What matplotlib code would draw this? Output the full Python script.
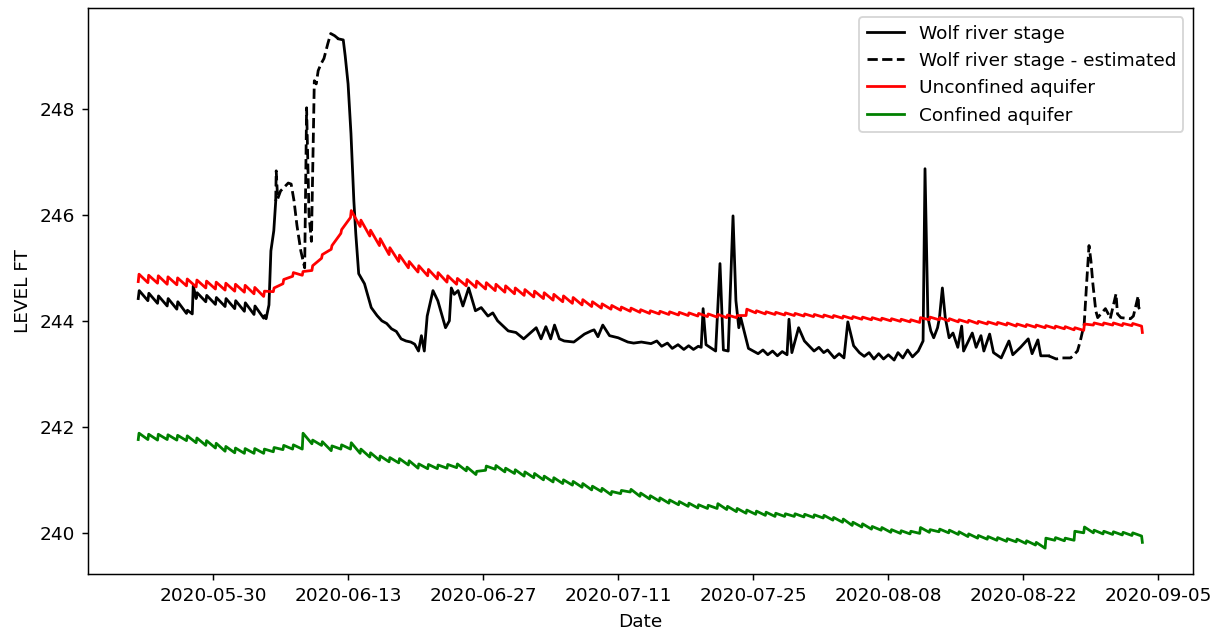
import numpy as np
import pandas as pd
import matplotlib
matplotlib.use("Agg")
import matplotlib.pyplot as plt
import matplotlib.dates as mdates

start = pd.Timestamp("2020-05-22")

# Wolf river stage (observed), (day since start, ft); None breaks the line
stage = [
    (0.25, 244.42), (0.35, 244.57), (1.25, 244.38), (1.35, 244.52), (2.25, 244.33), (2.35, 244.47),
    (3.25, 244.28), (3.35, 244.42), (4.25, 244.22), (4.35, 244.36), (5.25, 244.14), (5.35, 244.20),
    (5.85, 244.13), (5.95, 244.66), (6.25, 244.42), (6.35, 244.53), (7.25, 244.36), (7.35, 244.48),
    (8.25, 244.31), (8.35, 244.44), (9.25, 244.27), (9.35, 244.42), (10.25, 244.23), (10.35, 244.38),
    (11.25, 244.18), (11.35, 244.34), (12.25, 244.12), (12.35, 244.28), (13.25, 244.05), (13.35, 244.10),
    (13.5, 244.04), (13.8, 244.30), (14.0, 245.32), (14.3, 245.70), (14.5, 246.26),
    None,
    (21.0, 249.32), (21.5, 249.30), (21.7, 249.00), (22.0, 248.47), (22.3, 247.53), (22.6, 246.26),
    (22.8, 245.64), (23.1, 244.89), (23.7, 244.70), (24.4, 244.25), (25.0, 244.10), (25.5, 244.00),
    (26.0, 243.95), (26.5, 243.85), (27.0, 243.80), (27.5, 243.66), (28.0, 243.62), (28.5, 243.60),
    (28.9, 243.56), (29.3, 243.43), (29.6, 243.72), (29.9, 243.43), (30.2, 244.09), (30.8, 244.57),
    (31.3, 244.38), (32.1, 243.87), (32.5, 244.00), (32.7, 244.62), (33.0, 244.50), (33.4, 244.57),
    (33.9, 244.28), (34.5, 244.62), (35.2, 244.19), (35.8, 244.25), (36.5, 244.09), (37.0, 244.15),
    (37.5, 244.00), (38.6, 243.81), (39.4, 243.78), (40.2, 243.66), (41.5, 243.87), (42.0, 243.66),
    (42.5, 243.89), (43.0, 243.66), (43.4, 243.92), (43.9, 243.66), (44.4, 243.62), (45.4, 243.60),
    (46.5, 243.75), (47.2, 243.81), (47.5, 243.83), (47.9, 243.70), (48.4, 243.92), (49.1, 243.72),
    (50.0, 243.68), (51.0, 243.60), (51.6, 243.58), (52.4, 243.60), (53.4, 243.57), (54.0, 243.62),
    (54.5, 243.52), (55.1, 243.58), (55.6, 243.48), (56.2, 243.55), (56.8, 243.46), (57.3, 243.53),
    (57.8, 243.46), (58.3, 243.52), (58.6, 243.50), (58.8, 244.23), (59.1, 243.55), (60.1, 243.43),
    (60.55, 245.08), (60.9, 243.45), (61.4, 243.43), (61.9, 245.98), (62.2, 244.38), (62.5, 243.87),
    (62.7, 244.06), (63.5, 243.48), (64.5, 243.38), (65.0, 243.45), (65.5, 243.36), (66.0, 243.43),
    (66.5, 243.34), (67.0, 243.42), (67.5, 243.36), (67.7, 244.03), (68.0, 243.40), (68.7, 243.87),
    (69.3, 243.62), (70.3, 243.43), (70.8, 243.50), (71.3, 243.40), (71.7, 243.45), (72.4, 243.30),
    (72.9, 243.38), (73.4, 243.30), (73.8, 243.98), (74.4, 243.53), (75.0, 243.40), (75.5, 243.33),
    (76.0, 243.40), (76.5, 243.28), (77.0, 243.38), (77.5, 243.28), (78.0, 243.36), (78.6, 243.26),
    (79.0, 243.40), (79.5, 243.30), (80.0, 243.45), (80.5, 243.32), (81.1, 243.43), (81.6, 243.62),
    (81.8, 246.87), (82.1, 244.06), (82.4, 243.81), (82.7, 243.68), (83.1, 243.87), (83.3, 244.06),
    (83.6, 244.62), (83.9, 244.06), (84.3, 243.68), (84.7, 243.77), (85.2, 243.50), (85.6, 243.90),
    (85.8, 243.43), (86.7, 243.77), (87.1, 243.50), (87.6, 243.72), (87.9, 243.43), (88.5, 243.75),
    (88.9, 243.40), (89.7, 243.30), (90.5, 243.62), (90.9, 243.36), (91.7, 243.50), (92.5, 243.66),
    (92.9, 243.38), (93.5, 243.64), (93.8, 243.34), (94.6, 243.34),
]

# Wolf river stage - estimated
stage_est = [
    (14.5, 246.26), (14.55, 246.83), (14.7, 246.30), (15.0, 246.45), (15.8, 246.60), (16.1, 246.58),
    (16.4, 246.26), (16.7, 245.80), (17.1, 245.32), (17.5, 245.00), (17.7, 248.02), (17.95, 246.00),
    (18.2, 245.50), (18.4, 247.50), (18.5, 248.53), (18.7, 248.47), (18.9, 248.72), (19.2, 248.85),
    (19.5, 248.95), (19.9, 249.23), (20.2, 249.42), (20.6, 249.38), (21.0, 249.32),
    None,
    (94.6, 243.34), (95.4, 243.28), (96.0, 243.30), (96.9, 243.30), (97.6, 243.43), (97.9, 243.62),
    (98.3, 243.94), (98.55, 244.70), (98.8, 245.42), (99.0, 245.13), (99.2, 244.70), (99.5, 244.19),
    (99.7, 244.06), (100.5, 244.23), (100.8, 244.13), (101.0, 244.04), (101.6, 244.51), (101.75, 244.13),
    (102.1, 244.06), (103.1, 244.04), (103.4, 244.09), (103.9, 244.47), (103.95, 244.25), (104.2, 244.19),
]

# aquifers: daily low (before the daily jump) and high (just after it)
unconf_low = [
    244.74, 244.72, 244.71, 244.69, 244.68, 244.66, 244.64, 244.62, 244.60, 244.58,
    244.56, 244.54, 244.51, 244.46, 244.55, 244.70, 244.84, 244.86, 244.95, 245.18,
    245.35, 245.65, 245.95, 245.78, 245.60, 245.42, 245.25, 245.12, 245.00, 244.92,
    244.85, 244.79, 244.73, 244.69, 244.66, 244.63, 244.60, 244.57, 244.54, 244.51,
    244.48, 244.45, 244.42, 244.39, 244.36, 244.33, 244.30, 244.27, 244.24, 244.22,
    244.20, 244.18, 244.16, 244.14, 244.13, 244.12, 244.11, 244.10, 244.09, 244.08,
    244.07, 244.06, 244.06, 244.10, 244.15, 244.13, 244.12, 244.11, 244.10, 244.09,
    244.08, 244.07, 244.06, 244.05, 244.04, 244.03, 244.02, 244.01, 244.00, 243.99,
    243.98, 243.97, 244.02, 244.02, 244.00, 243.98, 243.97, 243.95, 243.94, 243.93,
    243.92, 243.90, 243.89, 243.88, 243.87, 243.86, 243.85, 243.83, 243.82, 243.92,
    243.92, 243.92, 243.91, 243.91, 243.90,
]
unconf_high = [
    244.88, 244.86, 244.85, 244.83, 244.81, 244.79, 244.77, 244.75, 244.73, 244.71,
    244.69, 244.67, 244.63, 244.56, 244.62, 244.78, 244.91, 244.93, 245.04, 245.25,
    245.42, 245.72, 246.08, 245.90, 245.71, 245.55, 245.38, 245.24, 245.12, 245.04,
    244.97, 244.91, 244.85, 244.80, 244.78, 244.75, 244.72, 244.69, 244.66, 244.62,
    244.59, 244.56, 244.53, 244.50, 244.47, 244.44, 244.40, 244.36, 244.32, 244.29,
    244.26, 244.24, 244.21, 244.19, 244.18, 244.17, 244.16, 244.15, 244.14, 244.13,
    244.12, 244.11, 244.10, 244.22, 244.19, 244.17, 244.16, 244.15, 244.14, 244.13,
    244.12, 244.11, 244.10, 244.09, 244.08, 244.07, 244.06, 244.05, 244.04, 244.03,
    244.02, 244.06, 244.07, 244.06, 244.04, 244.02, 244.01, 243.99, 243.98, 243.97,
    243.96, 243.94, 243.93, 243.92, 243.91, 243.90, 243.89, 243.87, 243.94, 243.96,
    243.96, 243.96, 243.95, 243.95, 243.78,
]
conf_low = [
    241.76, 241.76, 241.75, 241.76, 241.75, 241.74, 241.70, 241.65, 241.60, 241.54,
    241.51, 241.50, 241.50, 241.50, 241.53, 241.57, 241.58, 241.58, 241.68, 241.65,
    241.55, 241.58, 241.58, 241.50, 241.43, 241.37, 241.34, 241.32, 241.28, 241.22,
    241.21, 241.21, 241.22, 241.23, 241.17, 241.10, 241.18, 241.20, 241.15, 241.12,
    241.07, 241.04, 241.00, 240.96, 240.93, 240.90, 240.86, 240.81, 240.78, 240.72,
    240.74, 240.77, 240.69, 240.64, 240.60, 240.56, 240.53, 240.50, 240.47, 240.46,
    240.46, 240.44, 240.40, 240.37, 240.35, 240.33, 240.31, 240.31, 240.31, 240.30,
    240.29, 240.28, 240.24, 240.20, 240.14, 240.11, 240.07, 240.05, 240.01, 239.99,
    239.98, 239.99, 240.01, 240.02, 240.00, 239.97, 239.93, 239.90, 239.88, 239.86,
    239.84, 239.83, 239.80, 239.77, 239.71, 239.86, 239.85, 239.86, 240.00, 240.00,
    239.98, 239.97, 239.96, 239.95, 239.94,
]
conf_high = [
    241.88, 241.86, 241.86, 241.85, 241.84, 241.83, 241.79, 241.74, 241.69, 241.63,
    241.60, 241.59, 241.59, 241.58, 241.61, 241.65, 241.66, 241.88, 241.75, 241.72,
    241.64, 241.66, 241.70, 241.58, 241.51, 241.45, 241.42, 241.40, 241.36, 241.30,
    241.29, 241.28, 241.29, 241.30, 241.24, 241.16, 241.26, 241.27, 241.22, 241.19,
    241.15, 241.12, 241.07, 241.04, 241.00, 240.97, 240.93, 240.88, 240.84, 240.78,
    240.80, 240.82, 240.75, 240.70, 240.66, 240.62, 240.59, 240.56, 240.53, 240.52,
    240.55, 240.50, 240.46, 240.43, 240.41, 240.39, 240.37, 240.36, 240.36, 240.35,
    240.34, 240.33, 240.29, 240.26, 240.20, 240.17, 240.12, 240.10, 240.06, 240.04,
    240.03, 240.10, 240.06, 240.07, 240.05, 240.02, 239.98, 239.95, 239.93, 239.91,
    239.89, 239.88, 239.85, 239.82, 239.90, 239.91, 239.90, 240.03, 240.11, 240.05,
    240.03, 240.02, 240.01, 240.00, 239.82,
]


def to_series(pairs):
    days = [np.nan if p is None else p[0] for p in pairs]
    vals = [np.nan if p is None else p[1] for p in pairs]
    t = start + pd.to_timedelta(pd.Series(days).fillna(0), unit="D")
    t[pd.Series(days).isna()] = pd.NaT
    return t, np.array(vals)


def daily(low, high):
    days = []
    vals = []
    for i, (lo, hi) in enumerate(zip(low, high)):
        days += [i + 0.25, i + 0.33]
        vals += [lo, hi]
    return start + pd.to_timedelta(days, unit="D"), np.array(vals)


t_obs, v_obs = to_series(stage)
t_est, v_est = to_series(stage_est)
t_unc, v_unc = daily(unconf_low, unconf_high)
t_con, v_con = daily(conf_low, conf_high)

fig = plt.figure(figsize=(1219.4 / 133, 632.4 / 133), dpi=133)
ax = fig.add_subplot(111)
fig.subplots_adjust(left=0.0722, right=0.978, top=0.987, bottom=0.0918)

ax.plot(t_obs, v_obs, color="k", label="Wolf river stage")
ax.plot(t_est, v_est, color="k", linestyle="--", label="Wolf river stage - estimated")
ax.plot(t_unc, v_unc, color="r", label="Unconfined aquifer")
ax.plot(t_con, v_con, color="g", label="Confined aquifer")

ax.set_xticks(pd.date_range("2020-05-30", "2020-09-05", freq="14D"))
ax.xaxis.set_major_formatter(mdates.DateFormatter("%Y-%m-%d"))
ax.set_xlabel("Date")
ax.set_ylabel("LEVEL FT")
ax.legend(loc="upper right")

fig.savefig("out.png", dpi=133)
